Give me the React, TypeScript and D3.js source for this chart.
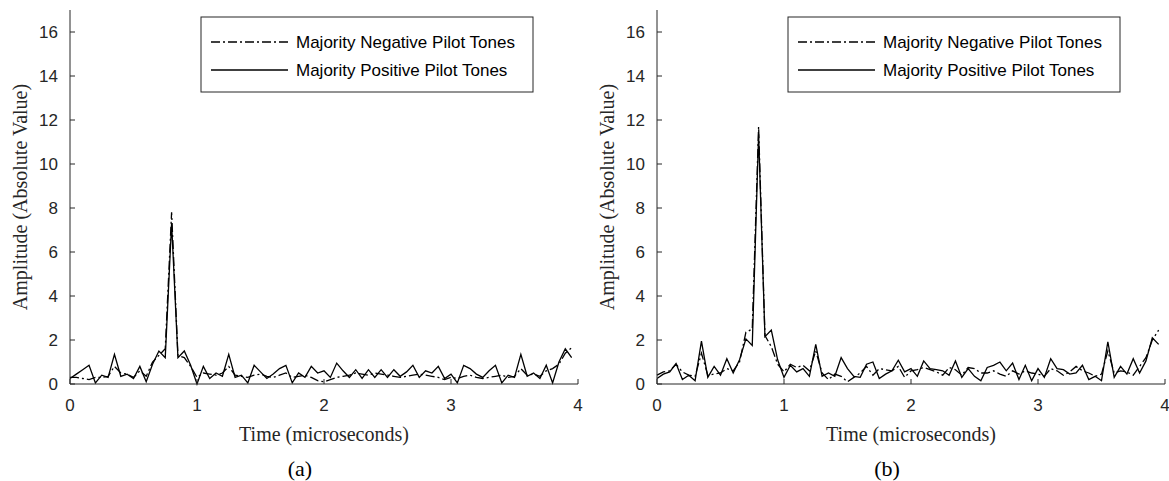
import React from "react";
import * as d3 from "d3";

// sample interval in microseconds
const sampleStep = 0.05;

const xTicks = [0, 1, 2, 3, 4];
const yTicks = [0, 2, 4, 6, 8, 10, 12, 14, 16];
const seriesNames = ["Majority Negative Pilot Tones", "Majority Positive Pilot Tones"];
const panelLabels = ["(a)", "(b)"];

// (a)
const negA = [0.3, 0.3, 0.25, 0.2, 0.3, 0.3, 0.35, 0.8, 0.5, 0.45, 0.3, 0.6, 0.35, 1.0, 1.3, 1.6, 7.8, 1.3, 1.2, 0.8,
  0.3, 0.5, 0.45, 0.4, 0.5, 0.8, 0.4, 0.35, 0.3, 0.4, 0.45, 0.35, 0.3, 0.4, 0.5, 0.3, 0.35, 0.4, 0.3, 0.15,
  0.1, 0.2, 0.3, 0.35, 0.4, 0.5, 0.45, 0.4, 0.5, 0.45, 0.4, 0.35, 0.3, 0.35, 0.4, 0.45, 0.4, 0.35, 0.3, 0.2,
  0.3, 0.25, 0.35, 0.4, 0.3, 0.25, 0.3, 0.35, 0.4, 0.3, 0.35, 0.7, 0.4, 0.45, 0.35, 0.6, 0.7, 0.9, 1.4, 1.65];
const posA = [0.25, 0.45, 0.65, 0.85, 0.05, 0.4, 0.3, 1.35, 0.35, 0.45, 0.25, 0.8, 0.1, 0.9, 1.5, 1.2, 7.3, 1.2, 1.5, 0.85,
  0.0, 0.8, 0.25, 0.5, 0.35, 1.35, 0.3, 0.4, 0.05, 0.85, 0.55, 0.25, 0.45, 0.7, 0.85, 0.05, 0.5, 0.3, 0.8, 0.5,
  0.6, 0.3, 0.95, 0.6, 0.3, 0.65, 0.25, 0.65, 0.3, 0.65, 0.3, 0.65, 0.35, 0.55, 0.85, 0.3, 0.6, 0.5, 0.8, 0.25,
  0.45, 0.05, 0.85, 0.7, 0.45, 0.3, 0.6, 0.85, 0.05, 0.4, 0.3, 1.35, 0.35, 0.5, 0.25, 0.85, 0.05, 1.0, 1.6, 1.2];

// (b)
const negB = [0.4, 0.55, 0.6, 0.9, 0.55, 0.4, 0.35, 1.4, 0.4, 0.45, 0.5, 0.7, 0.6, 1.0, 2.35, 2.5, 11.7, 2.2, 1.7, 0.9,
  0.55, 0.9, 0.75, 0.85, 0.6, 1.5, 0.5, 0.2, 0.45, 0.35, 0.1, 0.3, 0.5, 0.8, 0.4, 0.7, 0.65, 0.6, 0.8, 0.3,
  0.6, 0.65, 0.75, 0.65, 0.55, 0.4, 0.75, 0.65, 0.4, 0.75, 0.7, 0.5, 0.5, 0.6, 0.45, 0.35, 0.6, 0.45, 0.6, 0.5,
  0.45, 0.35, 0.7, 0.6, 0.4, 0.55, 0.8, 0.6, 0.5, 0.35, 0.45, 1.5, 0.5, 0.6, 0.55, 0.4, 0.8, 1.2, 2.0, 2.45];
const posB = [0.25, 0.45, 0.55, 0.93, 0.2, 0.4, 0.15, 1.95, 0.3, 0.8, 0.4, 1.15, 0.5, 1.1, 2.05, 1.75, 11.35, 2.15, 2.45, 1.1,
  0.3, 0.85, 0.55, 0.7, 0.35, 1.8, 0.35, 0.5, 0.35, 1.2, 0.7, 0.35, 0.3, 0.9, 1.0, 0.25, 0.45, 0.6, 1.08, 0.55,
  0.7, 0.35, 1.05, 0.7, 0.65, 0.6, 0.4, 1.05, 0.3, 0.7, 0.35, 0.15, 0.75, 0.85, 1.0, 0.6, 0.95, 0.2, 0.85, 0.15,
  0.7, 0.3, 1.15, 0.7, 0.65, 0.45, 0.5, 0.85, 0.2, 0.35, 0.15, 1.92, 0.3, 0.8, 0.45, 1.15, 0.5, 1.05, 2.1, 1.8];

const AXIS = "#262626";
const SANS = "'Liberation Sans', Arial, Helvetica, sans-serif";
const SERIF = "'Liberation Serif', 'Times New Roman', serif";
const DASH = "9,3,2,3";

type PanelProps = { x0: number; x1: number; neg: number[]; pos: number[]; label: string };

function Panel({ x0, x1, neg, pos, label }: PanelProps) {
  const top = 10, bottom = 384;
  const x = d3.scaleLinear().domain([0, 4]).range([x0, x1]);
  const y = d3.scaleLinear().domain([0, 17]).range([bottom, top]);
  const line = d3.line<number>().x((_, i) => x(i * sampleStep)).y(d => y(d));
  const cx = (x0 + x1) / 2;
  const lgL = x0 + 131, lgR = x0 + 463, lgT = 17, lgB = 92;
  return (
    <g>
      <path d={line(neg) || ""} fill="none" stroke="#000" strokeWidth={1.3} strokeDasharray={DASH} />
      <path d={line(pos) || ""} fill="none" stroke="#000" strokeWidth={1.3} />
      <line x1={x0} x2={x0} y1={top} y2={bottom} stroke={AXIS} strokeWidth={1} />
      <line x1={x0} x2={x1} y1={bottom} y2={bottom} stroke={AXIS} strokeWidth={1} />
      {yTicks.map(t => (
        <g key={"y" + t}>
          <line x1={x0} x2={x0 + 5} y1={y(t)} y2={y(t)} stroke={AXIS} />
          <text x={x0 - 12} y={y(t)} dy="0.35em" textAnchor="end" fontFamily={SANS} fontSize={17} fill={AXIS}>{t}</text>
        </g>
      ))}
      {xTicks.map(t => (
        <g key={"x" + t}>
          <line x1={x(t)} x2={x(t)} y1={bottom} y2={bottom - 5} stroke={AXIS} />
          <text x={x(t)} y={bottom + 21} dy="0.35em" textAnchor="middle" fontFamily={SANS} fontSize={17} fill={AXIS}>{t}</text>
        </g>
      ))}
      <text transform={`translate(${x0 - 50},${(top + bottom) / 2}) rotate(-90)`} dy="0.35em" textAnchor="middle"
        fontFamily={SERIF} fontSize={20} fill={AXIS}>Amplitude (Absolute Value)</text>
      <text x={cx} y={434} dy="0.35em" textAnchor="middle" fontFamily={SERIF} fontSize={20} fill={AXIS}>Time (microseconds)</text>
      <text x={cx - 24} y={468} dy="0.35em" textAnchor="middle" fontFamily={SERIF} fontSize={22} fill="#000">{label}</text>
      <rect x={lgL} y={lgT} width={lgR - lgL} height={lgB - lgT} fill="#fff" stroke={AXIS} strokeWidth={1} />
      {seriesNames.map((n, i) => {
        const ly = lgT + 25 + i * 28;
        return (
          <g key={n}>
            <line x1={lgL + 10} x2={lgL + 87} y1={ly} y2={ly} stroke="#000" strokeWidth={1.3}
              strokeDasharray={i === 0 ? DASH : undefined} />
            <text x={lgL + 95} y={ly} dy="0.35em" fontFamily={SANS} fontSize={17} fill="#000">{n}</text>
          </g>
        );
      })}
    </g>
  );
}

export default function App() {
  return (
    <svg width={1169} height={481} style={{ position: "absolute", left: 0, top: 0, background: "#fff" }}>
      <rect width={1169} height={481} fill="#fff" />
      <Panel x0={70} x1={578} neg={negA} pos={posA} label={panelLabels[0]} />
      <Panel x0={657} x1={1165} neg={negB} pos={posB} label={panelLabels[1]} />
    </svg>
  );
}
